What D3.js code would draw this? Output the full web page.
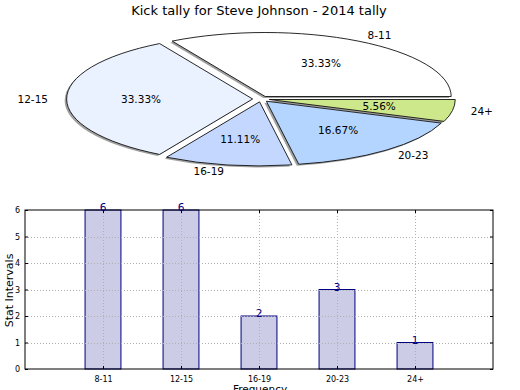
<!DOCTYPE html>
<html>
<head>
<meta charset="utf-8">
<script src="https://cdn.jsdelivr.net/npm/d3@7"></script>
<style>
  body { margin: 0; background: #fff; }
  svg { font-family: "DejaVu Sans", sans-serif; }
</style>
</head>
<body>
<div id="chart"></div>
<script>
const categories = ["8-11", "12-15", "16-19", "20-23", "24+"];
const counts = [6, 6, 2, 3, 1];
const sliceColors = ["#ffffff", "#eaf1ff", "#c4d8ff", "#b4d5ff", "#cde88a"];
const yTicks = [0, 1, 2, 3, 4, 5, 6];
const title = "Kick tally for Steve Johnson - 2014 tally";

const width = 520, height = 390;
const svg = d3.select("#chart").append("svg")
    .attr("width", width)
    .attr("height", height);

svg.append("text")
    .attr("x", 259).attr("y", 15)
    .attr("text-anchor", "middle")
    .style("font-size", "13px")
    .text(title);

// ---- Pie (squashed ellipse, exploded, with shadow) ----
const cx = 261, cy = 99, rx = 186, ry = 64, explode = 0.045;
const total = d3.sum(counts);

const pie = d3.pie().sort(null)
    .startAngle(Math.PI / 2)
    .endAngle(Math.PI / 2 - 2 * Math.PI);
const arcs = pie(counts);
const arc = d3.arc().innerRadius(0).outerRadius(1);

// unit-circle offset along the mid angle
const unit = (a, r) => [Math.sin(a) * r, -Math.cos(a) * r];

const pieG = svg.append("g");

arcs.forEach((d, i) => {
    const mid = (d.startAngle + d.endAngle) / 2;
    const [ox, oy] = unit(mid, explode);
    const px = cx + ox * rx, py = cy + oy * ry;

    // shadow
    pieG.append("path")
        .attr("d", arc(d))
        .attr("transform", `translate(${px - 2},${py + 1.5}) scale(${rx},${ry})`)
        .attr("fill", "#888")
        .attr("opacity", 0.8);
});

arcs.forEach((d, i) => {
    const mid = (d.startAngle + d.endAngle) / 2;
    const [ox, oy] = unit(mid, explode);
    const px = cx + ox * rx, py = cy + oy * ry;

    pieG.append("path")
        .attr("d", arc(d))
        .attr("transform", `translate(${px},${py}) scale(${rx},${ry})`)
        .attr("fill", sliceColors[i])
        .attr("stroke", "#111")
        .attr("stroke-width", 0.9)
        .attr("vector-effect", "non-scaling-stroke");

    // category label
    const [lx, ly] = unit(mid, 1.1);
    pieG.append("text")
        .attr("x", px + lx * rx)
        .attr("y", py + ly * ry)
        .attr("dy", "0.35em")
        .attr("text-anchor", lx > 0 ? "start" : "end")
        .style("font-size", "10.5px")
        .text(categories[i]);

    // percentage label
    const [tx, ty] = unit(mid, 0.6);
    pieG.append("text")
        .attr("x", px + tx * rx)
        .attr("y", py + ty * ry)
        .attr("dy", "0.35em")
        .attr("text-anchor", "middle")
        .style("font-size", "10.5px")
        .text((counts[i] / total * 100).toFixed(2) + "%");
});

// ---- Bar chart ----
const plotL = 25, plotR = 493, plotT = 210, plotB = 369;
const x = d3.scaleLinear().domain([-1, 5]).range([plotL, plotR]);
const y = d3.scaleLinear().domain([0, 6]).range([plotB, plotT]);
const barW = 0.46;

const barG = svg.append("g");

barG.selectAll(".bar")
    .data(counts)
    .enter().append("rect")
    .attr("class", "bar")
    .attr("x", (d, i) => x(i - barW / 2))
    .attr("width", x(barW) - x(0))
    .attr("y", d => y(d))
    .attr("height", d => y(0) - y(d))
    .attr("fill", "#ccccE6")
    .attr("stroke", "#000080")
    .attr("stroke-width", 1);

// grid (drawn over bars)
const grid = svg.append("g")
    .attr("stroke", "#b0b0b0")
    .attr("stroke-width", 1)
    .attr("stroke-dasharray", "1,2");
grid.selectAll(".gy").data(yTicks.slice(1, -1)).enter().append("line")
    .attr("x1", plotL).attr("x2", plotR)
    .attr("y1", d => Math.round(y(d)) + 0.5).attr("y2", d => Math.round(y(d)) + 0.5);
grid.selectAll(".gx").data(categories).enter().append("line")
    .attr("x1", (d, i) => Math.round(x(i)) + 0.5).attr("x2", (d, i) => Math.round(x(i)) + 0.5)
    .attr("y1", plotT).attr("y2", plotB);

// axes via d3 axis
const yAxis = d3.axisLeft(y).tickValues(yTicks).tickFormat(d3.format("d"))
    .tickSize(-3).tickPadding(5);
const yAxisR = d3.axisRight(y).tickValues(yTicks).tickSize(-3).tickFormat("");
const xAxis = d3.axisBottom(x).tickValues(d3.range(categories.length))
    .tickFormat(i => categories[i]).tickSize(-3).tickPadding(7);
const xAxisT = d3.axisTop(x).tickValues(d3.range(categories.length))
    .tickSize(-3).tickFormat("");

function style(g) {
    g.select(".domain").remove();
    g.selectAll("text").style("font-size", "8px").attr("fill", "#000")
        .style("font-family", "DejaVu Sans, sans-serif");
    g.selectAll("line").attr("stroke", "#000");
}
svg.append("g").attr("transform", `translate(${plotL},0)`).call(yAxis).call(style);
svg.append("g").attr("transform", `translate(${plotR},0)`).call(yAxisR).call(style);
svg.append("g").attr("transform", `translate(0,${plotB})`).call(xAxis).call(style);
svg.append("g").attr("transform", `translate(0,${plotT})`).call(xAxisT).call(style);

svg.append("rect")
    .attr("x", plotL).attr("y", plotT)
    .attr("width", plotR - plotL).attr("height", plotB - plotT)
    .attr("fill", "none").attr("stroke", "#000").attr("stroke-width", 1);

// value labels
svg.selectAll(".val")
    .data(counts)
    .enter().append("text")
    .attr("x", (d, i) => x(i))
    .attr("y", d => y(d) + 1)
    .attr("text-anchor", "middle")
    .attr("fill", "#000080")
    .style("font-size", "10.5px")
    .text(d => d);

svg.append("text")
    .attr("transform", `translate(13,${(plotT + plotB) / 2 + 1}) rotate(-90)`)
    .attr("text-anchor", "middle")
    .style("font-size", "11px")
    .text("Stat Intervals");

svg.append("text")
    .attr("x", (plotL + plotR) / 2 + 1).attr("y", 393)
    .attr("text-anchor", "middle")
    .style("font-size", "10.5px")
    .text("Frequency");
</script>
</body>
</html>
